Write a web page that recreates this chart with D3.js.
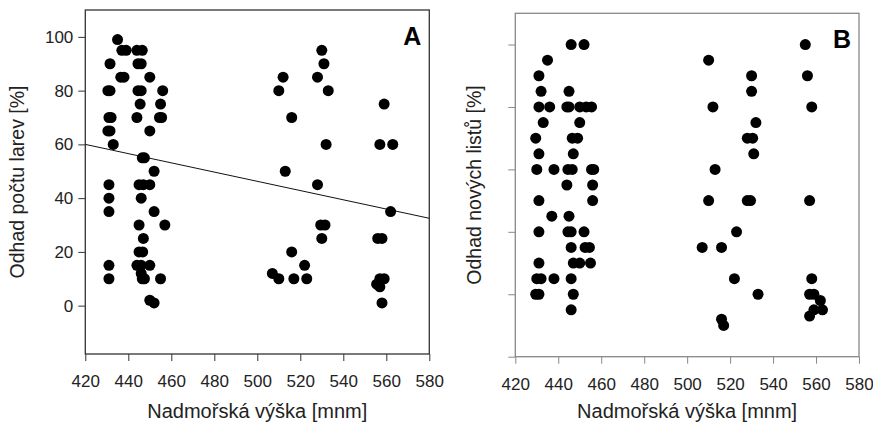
<!DOCTYPE html>
<meta charset="utf-8">
<style>
body { margin: 0; background: #fff; }
svg text { font-family: Arial, "Liberation Sans", sans-serif; fill: #222; }
.tick text { font-size: 17px; }
.title { font-size: 20px; }
.ytitle { font-size: 19.5px; }
.panel-label { font-size: 25px; font-weight: bold; fill: #000; }
</style>
<body>
<svg id="chart" width="873" height="423"></svg>
<script src="https://d3js.org/d3.v7.min.js"></script>
<script>
// tick values
var xTicks = [420, 440, 460, 480, 500, 520, 540, 560, 580];
var yTicksA = [0, 20, 40, 60, 80, 100];
var yTicksB = [0, 20, 40, 60, 80, 100];

// panel A - altitude vs larvae estimate
var altA = [435, 437, 439, 444, 446.5, 431.5, 444.5, 446, 436.5, 438, 450,
  430.5, 431.5, 444.5, 446, 456, 445.5, 455, 431, 432, 444, 454.5, 455.5,
  430.5, 431.5, 450, 433, 446.5, 447.5, 452, 431, 445, 447, 450, 431, 446,
  431, 452, 445, 457, 447, 445, 446.7, 431, 444, 446, 450, 446, 431, 446.5,
  447.5, 455, 450, 452,
  530, 531, 512, 528, 510, 533, 559, 516, 532, 557, 563, 513, 528, 562,
  529.5, 531.5, 530, 556, 558, 516, 522, 507, 510, 517, 523, 557, 559,
  555.5, 557, 558];
var larvae = [99, 95, 95, 95, 95, 90, 90, 90, 85, 85, 85,
  80, 80, 80, 80, 80, 75, 75, 70, 70, 70, 70, 70,
  65, 65, 65, 60, 55, 55, 50, 45, 45, 45, 45, 40, 40,
  35, 35, 30, 30, 25, 20, 20, 15, 15, 15, 15, 12, 10, 10,
  10, 10, 2, 1,
  95, 90, 85, 85, 80, 80, 75, 70, 60, 60, 60, 50, 45, 35,
  30, 30, 25, 25, 25, 20, 15, 12, 10, 10, 10, 10, 10,
  8, 7, 1];
// fitted line, value at both ends of the x range
var fitAlt = [420, 580];
var fitLarvae = [60, 32.5];

// panel B - altitude vs new leaves estimate
var altB = [446, 452, 435, 431, 432, 445, 431, 436, 444, 445, 450, 453, 455.5,
  433, 450, 429.5, 446.5, 449, 431, 447, 430, 438, 444.5, 446.5, 455.5, 456.5,
  444, 456, 431, 456, 437, 445, 431, 444.5, 446, 452, 446, 452.5, 454.5,
  431, 447, 450, 455, 430, 432, 438, 446, 429.5, 431, 447, 446,
  555, 510, 530, 556, 530, 512, 558, 532, 528, 530.5, 531, 513, 510, 528,
  529.5, 557, 523, 507, 516, 522, 558, 533, 557, 559, 562, 563, 559, 557,
  516, 517];
var leaves = [100, 100, 95, 90, 85, 85, 80, 80, 80, 80, 80, 80, 80,
  75, 75, 70, 70, 70, 65, 65, 60, 60, 60, 60, 60, 60,
  55, 55, 50, 50, 45, 45, 40, 40, 40, 40, 35, 35, 35,
  30, 30, 30, 30, 25, 25, 25, 25, 20, 20, 20, 15,
  100, 95, 90, 90, 85, 80, 80, 75, 70, 70, 65, 60, 50, 50,
  50, 50, 40, 35, 35, 25, 25, 20, 20, 20, 18, 15, 15, 13,
  12, 10];

var svg = d3.select("#chart");

function drawPanel(p) {
  var x = d3.scaleLinear().domain([420, 580]).range([p.left, p.right]);
  var y = d3.scaleLinear().domain(p.yDomain).range([p.bottom, p.top]);
  var g = svg.append("g");

  g.append("g")
    .attr("transform", "translate(0," + p.bottom + ")")
    .call(d3.axisBottom(x).tickValues(xTicks).tickSize(7).tickSizeOuter(0).tickPadding(14))
    .call(function(a) { a.select(".domain").remove(); })
    .call(function(a) { a.selectAll("line").attr("stroke", p.frame); });

  var yAxis = d3.axisLeft(y).tickValues(p.yTicks).tickSize(7).tickSizeOuter(0).tickPadding(5);
  if (!p.yLabels) yAxis.tickFormat("");
  g.append("g")
    .attr("transform", "translate(" + p.left + ",0)")
    .call(yAxis)
    .call(function(a) { a.select(".domain").remove(); })
    .call(function(a) { a.selectAll("line").attr("stroke", p.frame); });

  g.selectAll(".tick text").attr("fill", "#222");

  g.append("rect")
    .attr("x", p.left).attr("y", p.top)
    .attr("width", p.right - p.left).attr("height", p.bottom - p.top)
    .attr("fill", "none").attr("stroke", p.frame).attr("stroke-width", 1.3);

  if (p.fitX) {
    g.append("line")
      .attr("x1", x(p.fitX[0])).attr("y1", y(p.fitY[0]))
      .attr("x2", x(p.fitX[1])).attr("y2", y(p.fitY[1]))
      .attr("stroke", "#111").attr("stroke-width", 1);
  }

  g.selectAll(".dot")
    .data(p.xs)
    .enter().append("circle")
    .attr("cx", function(d) { return x(d); })
    .attr("cy", function(d, i) { return y(p.ys[i]); })
    .attr("r", 5.5)
    .attr("fill", "#000");

  g.append("text")
    .attr("class", "title")
    .attr("x", (p.left + p.right) / 2)
    .attr("y", 418)
    .attr("text-anchor", "middle")
    .text("Nadmořská výška [mnm]");

  g.append("text")
    .attr("class", "ytitle")
    .attr("transform", "translate(" + p.yTitleX + "," + (p.top + p.bottom) / 2 + ") rotate(-90)")
    .attr("text-anchor", "middle")
    .text(p.yTitle);

  g.append("text")
    .attr("class", "panel-label")
    .attr("x", p.right - 8)
    .attr("y", p.top + 35)
    .attr("text-anchor", "end")
    .text(p.label);
}

drawPanel({
  left: 85.3, right: 429.3, top: 10, bottom: 354,
  yDomain: [-18, 110], yTicks: yTicksA, yLabels: true,
  xs: altA, ys: larvae, fitX: fitAlt, fitY: fitLarvae,
  frame: "#333", yTitle: "Odhad počtu larev [%]", yTitleX: 24, label: "A"
});

drawPanel({
  left: 515.3, right: 859, top: 13.3, bottom: 356.7,
  yDomain: [0, 110], yTicks: yTicksB, yLabels: false,
  xs: altB, ys: leaves,
  frame: "#888", yTitle: "Odhad nových listů [%]", yTitleX: 481, label: "B"
});
</script>
</body>
